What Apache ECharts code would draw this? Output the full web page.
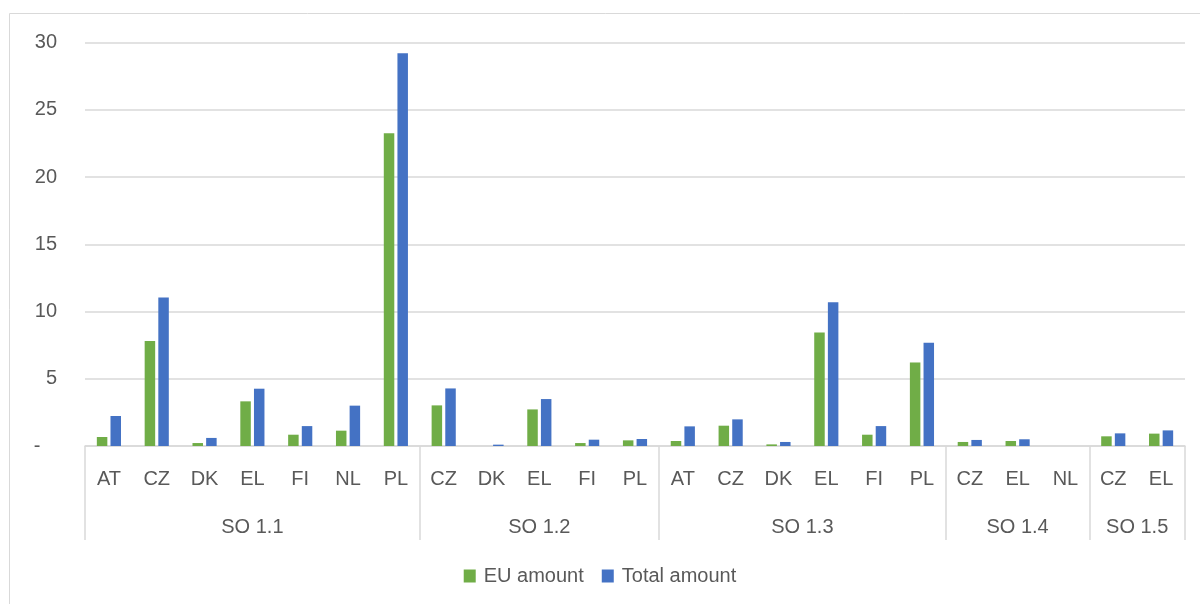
<!DOCTYPE html>
<html>
<head>
<meta charset="utf-8">
<script src="https://cdn.jsdelivr.net/npm/echarts@6/dist/echarts.min.js"></script>
<style>
  html, body { margin: 0; padding: 0; background: #fff; }
  #chart { width: 1200px; height: 604px; }
</style>
</head>
<body>
<div id="chart"></div>
<script>
// categories: country codes inside each SO group
var countries = ['AT', 'CZ', 'DK', 'EL', 'FI', 'NL', 'PL',
  'CZ', 'DK', 'EL', 'FI', 'PL',
  'AT', 'CZ', 'DK', 'EL', 'FI', 'PL',
  'CZ', 'EL', 'NL',
  'CZ', 'EL']
var groups = ['SO 1.1', 'SO 1.2', 'SO 1.3', 'SO 1.4', 'SO 1.5']
var groupSizes = [7, 5, 6, 3, 2]

var euAmount = [0.67, 7.8, 0.22, 3.32, 0.84, 1.14, 23.26,
  3.02, 0, 2.72, 0.22, 0.42,
  0.37, 1.51, 0.12, 8.44, 0.84, 6.21,
  0.3, 0.37, 0,
  0.72, 0.92]
var totalAmount = [2.23, 11.04, 0.6, 4.26, 1.48, 3.0, 29.2,
  4.28, 0.1, 3.49, 0.47, 0.52,
  1.46, 1.98, 0.3, 10.69, 1.48, 7.67,
  0.45, 0.5, 0,
  0.94, 1.16]

var yTicks = [0, 5, 10, 15, 20, 25, 30]

// group boundaries and centres in category units
var bounds = [0]
var centres = []
groupSizes.forEach(function (n, i) {
  var start = bounds[i]
  bounds.push(start + n)
  centres.push(start + n / 2)
})

var textColor = '#595959'
var lineColor = '#d9d9d9'
var font = 'Liberation Sans'

var chart = echarts.init(document.getElementById('chart'))
chart.setOption({
  animation: false,
  textStyle: { fontFamily: font },
  graphic: [{
    type: 'rect',
    shape: { x: 9.5, y: 13.5, width: 1200, height: 600 },
    style: { fill: 'none', stroke: lineColor, lineWidth: 1 },
    silent: true
  }],
  grid: { left: 85, right: 15, top: 42.5, bottom: 158 },
  legend: {
    bottom: 13,
    left: 'center',
    itemWidth: 12,
    itemHeight: 13,
    itemGap: 18,
    icon: 'rect',
    textStyle: { color: textColor, fontSize: 20, fontFamily: font, padding: [0, 0, 0, 3] },
    data: ['EU amount', 'Total amount']
  },
  xAxis: [{
    type: 'category',
    data: countries,
    axisLine: { lineStyle: { color: lineColor, width: 1.5 } },
    axisTick: { show: false },
    axisLabel: { interval: 0, color: textColor, fontSize: 20, margin: 23 }
  }, {
    type: 'value',
    min: 0,
    max: countries.length,
    position: 'bottom',
    axisLine: { show: false },
    splitLine: { show: false },
    axisTick: {
      show: true,
      customValues: bounds,
      length: 94,
      lineStyle: { color: lineColor, width: 1.5 }
    },
    axisLabel: {
      customValues: centres,
      color: textColor,
      fontSize: 20,
      margin: 71,
      formatter: function (v) {
        var i = centres.indexOf(v)
        return i >= 0 ? groups[i] : ''
      }
    }
  }],
  yAxis: {
    type: 'value',
    min: yTicks[0],
    max: yTicks[yTicks.length - 1],
    interval: 5,
    axisLine: { show: false },
    axisTick: { show: false },
    splitLine: { lineStyle: { color: lineColor, width: 1.5 } },
    axisLabel: {
      color: textColor,
      fontSize: 20,
      margin: 28,
      formatter: function (v) { return v === 0 ? '-   ' : String(v) }
    }
  },
  series: [{
    name: 'EU amount',
    type: 'bar',
    xAxisIndex: 0,
    barWidth: 10.5,
    barGap: '30%',
    itemStyle: { color: '#70ad47' },
    data: euAmount
  }, {
    name: 'Total amount',
    type: 'bar',
    xAxisIndex: 0,
    barWidth: 10.5,
    barGap: '30%',
    itemStyle: { color: '#4472c4' },
    data: totalAmount
  }]
})
</script>
</body>
</html>
